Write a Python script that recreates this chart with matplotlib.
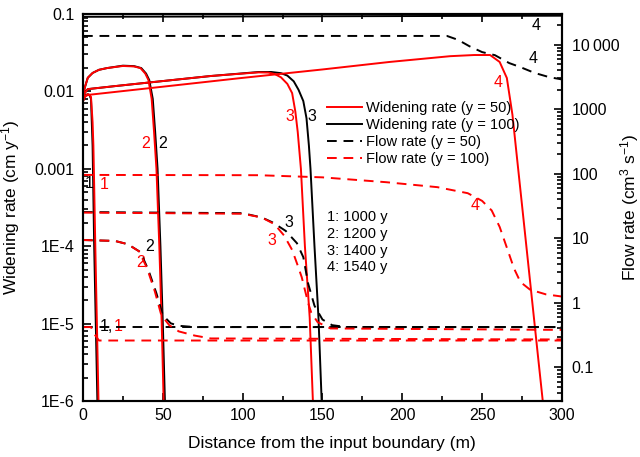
import numpy as np
import matplotlib
matplotlib.use("Agg")
import matplotlib.pyplot as plt
from matplotlib.ticker import FixedLocator, FixedFormatter, LogLocator, NullFormatter, MultipleLocator
from matplotlib.lines import Line2D

plt.rcParams['font.family'] = ['Liberation Sans', 'DejaVu Sans']
plt.rcParams['mathtext.default'] = 'regular'

# ---- widening rate (left axis, cm/y) ----
# y = 50 (red solid)
w1_r_x = [0, 1, 2, 3, 4, 5, 6, 6.5, 7, 7.7, 8.7, 9.7]
w1_r_y = [0.0075, 0.0085, 0.009, 0.0092, 0.009, 0.0085, 0.004, 0.002, 0.0006, 1e-4, 1e-5, 1e-6]
w2_r_x = [0, 1, 3, 6, 10, 15, 25, 32, 36, 39, 41, 43, 44.5, 46, 47.8, 49.3, 50.5]
w2_r_y = [0.008, 0.011, 0.015, 0.0173, 0.019, 0.020, 0.0213, 0.021, 0.020, 0.017, 0.014, 0.008, 0.003, 0.001, 1e-4, 1e-5, 1e-6]
w3_r_x = [0, 1, 3, 20, 50, 80, 100, 110, 116, 120, 124, 128, 131, 133, 134.5, 136.5, 139, 142, 144]
w3_r_y = [0.008, 0.0095, 0.0107, 0.0117, 0.0136, 0.0158, 0.0170, 0.0176, 0.0175, 0.0168, 0.0152, 0.0125, 0.0095, 0.0055, 0.003, 0.001, 1e-4, 1.2e-5, 1e-6]
w4_r_x = [0, 1, 3, 50, 98, 150, 192, 230, 245, 255, 261, 265.5, 269, 272, 275, 280, 285, 288]
w4_r_y = [0.0075, 0.0085, 0.009, 0.0115, 0.0148, 0.0192, 0.024, 0.0285, 0.0295, 0.0295, 0.024, 0.0149, 0.005, 0.0013, 3.4e-4, 3.6e-5, 3.8e-6, 1e-6]

# y = 100 (black solid)
w1_b_x = [0, 1, 2, 3, 4, 5, 5.5, 6, 6.4, 7, 8, 9]
w1_b_y = [0.0075, 0.0085, 0.009, 0.0092, 0.009, 0.008, 0.004, 0.002, 0.0006, 1e-4, 1e-5, 1e-6]
w2_b_x = [0, 1, 3, 6, 10, 15, 25, 32, 36.5, 39.5, 41.5, 43.7, 45.2, 46.7, 48.5, 50, 51.3]
w2_b_y = [0.008, 0.011, 0.015, 0.0173, 0.019, 0.020, 0.0215, 0.0212, 0.020, 0.017, 0.014, 0.008, 0.003, 0.001, 1e-4, 1e-5, 1e-6]
w3_b_x = [0, 1, 3, 20, 50, 80, 100, 110, 118, 124, 128, 132, 135, 138, 140, 141.5, 142.5, 145, 147.5, 149.5]
w3_b_y = [0.008, 0.0095, 0.0107, 0.0117, 0.0136, 0.0158, 0.0171, 0.0178, 0.0178, 0.0172, 0.016, 0.0135, 0.0105, 0.0075, 0.0045, 0.002, 0.001, 1e-4, 1.2e-5, 1e-6]
w4_b_x = [0, 100, 200, 300]
w4_b_y = [0.092, 0.093, 0.094, 0.095]

# ---- flow rate (right axis, cm3/s) ----
# y = 50 (black dashed)
f1_b_x = [0, 300]
f1_b_q = [0.42, 0.42]
f2_b_x = [0, 20, 28, 36, 41, 46, 50, 55, 60, 70, 300]
f2_b_q = [9.4, 9.1, 8.1, 6.1, 3.2, 1.4, 0.64, 0.48, 0.44, 0.42, 0.42]
f3_b_x = [0, 100, 112, 119, 127, 134, 138, 141, 145, 150, 156, 165, 300]
f3_b_q = [25.5, 24.5, 21, 17.5, 13, 8.4, 5.1, 2.0, 0.9, 0.55, 0.45, 0.42, 0.42]
f4_b_x = [0, 228, 235, 242, 250, 258, 267, 274, 283, 292, 300]
f4_b_q = [13700, 13700, 11900, 9500, 7700, 6900, 5200, 4500, 3650, 3150, 2900]

# y = 100 (red dashed)
f1_r_x = [0, 5, 7, 10, 300]
f1_r_q = [0.42, 0.42, 0.33, 0.26, 0.26]
f2_r_x = [0, 20, 28, 35, 40, 45, 49, 54, 60, 70, 80, 300]
f2_r_q = [9.4, 9.1, 8.1, 6.3, 3.5, 1.5, 0.65, 0.45, 0.36, 0.31, 0.28, 0.27]
f3_r_x = [0, 100, 112, 120, 126, 131, 134, 137, 139, 141, 143, 147, 155, 300]
f3_r_q = [25, 24, 21, 16.5, 11, 6.6, 4.1, 2.5, 1.58, 1.0, 0.7, 0.5, 0.4, 0.38]
f4_r_x = [0, 110, 150, 190, 222, 241, 250, 256, 261, 266, 270, 274, 280, 290, 300]
f4_r_q = [96, 95, 88, 74, 62, 50, 38, 27, 15, 6.6, 3.4, 2.1, 1.6, 1.35, 1.25]

left_ticks = [1e-6, 1e-5, 1e-4, 1e-3, 1e-2, 1e-1]
left_labels = ["1E-6", "1E-5", "1E-4", "0.001", "0.01", "0.1"]
right_ticks = [0.1, 1, 10, 100, 1000, 10000]
right_labels = ["0.1", "1", "10", "100", "1000", "10\u2009000"]
times = ["1: 1000 y", "2: 1200 y", "3: 1400 y", "4: 1540 y"]

fig = plt.figure(figsize=(6.4, 4.57), dpi=100)
ax = fig.add_axes([0.1297, 0.1225, 0.7483, 0.8469])
ax2 = ax.twinx()

lw = 1.4
dash = (0, (5, 3.5))
for xs, ys in [(w1_b_x, w1_b_y), (w2_b_x, w2_b_y), (w3_b_x, w3_b_y), (w4_b_x, w4_b_y)]:
    ax.plot(xs, ys, color='black', lw=lw)
for xs, ys in [(w1_r_x, w1_r_y), (w2_r_x, w2_r_y), (w3_r_x, w3_r_y), (w4_r_x, w4_r_y)]:
    ax.plot(xs, ys, color='red', lw=lw)

for xs, qs in [(f1_b_x, f1_b_q), (f2_b_x, f2_b_q), (f3_b_x, f3_b_q), (f4_b_x, f4_b_q)]:
    ax2.plot(xs, qs, color='black', lw=lw, ls=dash)
for xs, qs in [(f1_r_x, f1_r_q), (f2_r_x, f2_r_q), (f3_r_x, f3_r_q), (f4_r_x, f4_r_q)]:
    ax2.plot(xs, qs, color='red', lw=lw, ls=dash)

ax.set_xlim(0, 300)
ax.set_yscale('log')
ax.set_ylim(1e-6, 0.1)
ax2.set_yscale('log')
ax2.set_ylim(0.03, 30000)

ax.yaxis.set_major_locator(FixedLocator(left_ticks))
ax.yaxis.set_major_formatter(FixedFormatter(left_labels))
ax.yaxis.set_minor_locator(LogLocator(base=10, subs=np.arange(2, 10), numticks=20))
ax.yaxis.set_minor_formatter(NullFormatter())
ax2.yaxis.set_major_locator(FixedLocator(right_ticks))
ax2.yaxis.set_major_formatter(FixedFormatter(right_labels))
ax2.yaxis.set_minor_locator(LogLocator(base=10, subs=np.arange(2, 10), numticks=20))
ax2.yaxis.set_minor_formatter(NullFormatter())
ax.xaxis.set_major_locator(MultipleLocator(50))
ax.xaxis.set_minor_locator(MultipleLocator(25))

ax.tick_params(which='both', direction='in', top=True, right=False, labelsize=11.5, width=1.2)
ax.tick_params(which='major', length=6)
ax.tick_params(which='minor', length=3.5)
ax.tick_params(axis='y', pad=6)
ax.tick_params(axis='x', pad=5)
ax2.tick_params(which='both', direction='in', labelsize=11.5, width=1.2, pad=7)
ax2.tick_params(which='major', length=6)
ax2.tick_params(which='minor', length=3.5)
for a in (ax, ax2):
    for s in a.spines.values():
        s.set_linewidth(1.5)

ax.set_xlabel("Distance from the input boundary (m)", fontsize=12.5)
ax.set_ylabel("Widening rate (cm y$^{-1}$)", fontsize=12.5)
ax2.set_ylabel("Flow rate (cm$^{3}$ s$^{-1}$)", fontsize=12.5)
ax.xaxis.set_label_coords(0.52, -0.09)
ax.yaxis.set_label_coords(-0.127, 0.5)
ax2.yaxis.set_label_coords(1.118, 0.5)
ax2.yaxis.label.set_rotation(90)

# curve number labels
fs = 11.5
labels = [
    ("1", 3.8, 6.4e-4, 'black'), ("1", 13.1, 6.2e-4, 'red'),
    ("2", 50, 2.15e-3, 'black'), ("2", 39, 2.15e-3, 'red'),
    ("3", 129.6, 4.67e-3, 'red'), ("3", 143.4, 4.67e-3, 'black'),
    ("4", 260, 0.0132, 'red'), ("4", 284, 0.07, 'black'), ("4", 281.8, 0.027, 'black'),
    ("1,", 14.6, 9.3e-6, 'black'), ("1", 21.8, 9.3e-6, 'red'),
    ("2", 42, 1.0e-4, 'black'), ("2", 36.3, 6.1e-5, 'red'),
    ("3", 129, 2.0e-4, 'black'), ("3", 118.3, 1.2e-4, 'red'),
    ("4", 245.5, 3.4e-4, 'red'),
]
for t, x, y, c in labels:
    ax.text(x, y, t, color=c, fontsize=fs, ha='center', va='center', zorder=5)

ax.text(0.509, 0.4935, "\n".join(times), transform=ax.transAxes, fontsize=10.5,
        ha='left', va='top', linespacing=1.25)

handles = [
    Line2D([], [], color='red', lw=lw),
    Line2D([], [], color='black', lw=lw),
    Line2D([], [], color='black', lw=lw, ls=dash),
    Line2D([], [], color='red', lw=lw, ls=dash),
]
names = ["Widening rate (y = 50)", "Widening rate (y = 100)", "Flow rate (y = 50)", "Flow rate (y = 100)"]
ax.legend(handles, names, loc='upper left', bbox_to_anchor=(0.509, 0.775), frameon=False,
          fontsize=10.5, borderpad=0, borderaxespad=0, handlelength=2.4, handletextpad=0.3,
          labelspacing=0.2)

fig.savefig("out.png", dpi=100)
